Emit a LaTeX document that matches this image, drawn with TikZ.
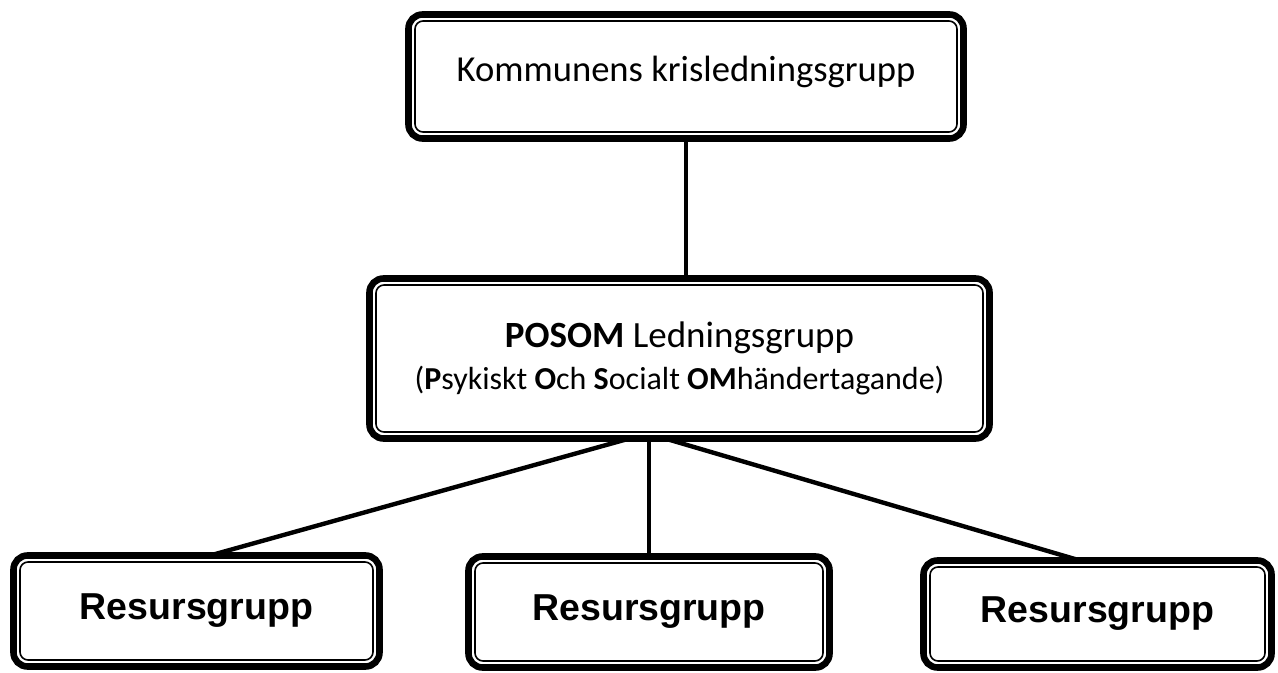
\documentclass[tikz,border=0pt]{standalone}
\usepackage{fontspec}
\setmainfont{Carlito}
\newfontfamily\resfont{Liberation Sans}
\usetikzlibrary{positioning}

\tikzset{
  box/.style={draw, line width=3.3pt, rounded corners=7pt, align=center,
    inner sep=0pt, outer sep=0pt},
  resbox/.style={box, minimum height=55.5pt,
    font=\resfont\bfseries\fontsize{18.75}{22}\selectfont},
  frame/.style={draw, line width=0.8pt, rounded corners=4pt},
  link/.style={line width=2.2pt},
}

\begin{document}
\begin{tikzpicture}
  \useasboundingbox (0,0) rectangle (639pt,-336.5pt);

  \node [box, minimum width=277.5pt, minimum height=62pt, text depth=8pt,
    font=\fontsize{18.3}{22}\selectfont] (top) at (343pt,-38.25pt)
    {Kommunens krisledningsgrupp};
  \node [box, minimum width=310pt, minimum height=80pt,
    font=\fontsize{18.5}{21}\selectfont,
    below=70pt of top, xshift=-3.25pt] (posom)
    {\textbf{POSOM} Ledningsgrupp\\
     {\fontsize{16}{21}\selectfont(\textbf{P}sykiskt \textbf{O}ch \textbf{S}ocialt \textbf{OM}händertagande)}};
  \node [resbox, minimum width=180.5pt, below=59pt of posom, xshift=-15.25pt] (res2) {Resursgrupp};
  \node [resbox, minimum width=183pt, left=44.5pt of res2, yshift=0.5pt] (res1) {Resursgrupp};
  \node [resbox, minimum width=174pt, minimum height=53.5pt, right=47pt of res2, yshift=-1pt] (res3) {Resursgrupp};

  % inner frames
  \foreach \n in {top, posom, res1, res2, res3}
    \draw [frame] ([shift={(3.25pt,3.25pt)}]\n.south west)
      rectangle ([shift={(-3.25pt,-3.25pt)}]\n.north east);

  \draw [link] (top) -- (top |- posom.north);
  \draw [link] (posom.south -| res2) -- (res2);
  \draw [link] ([xshift=-25pt]posom.south) -- ([xshift=6.75pt]res1.north);
  \draw [link] ([xshift=-7.25pt]posom.south) -- ([xshift=-8.75pt]res3.north);
\end{tikzpicture}
\end{document}
